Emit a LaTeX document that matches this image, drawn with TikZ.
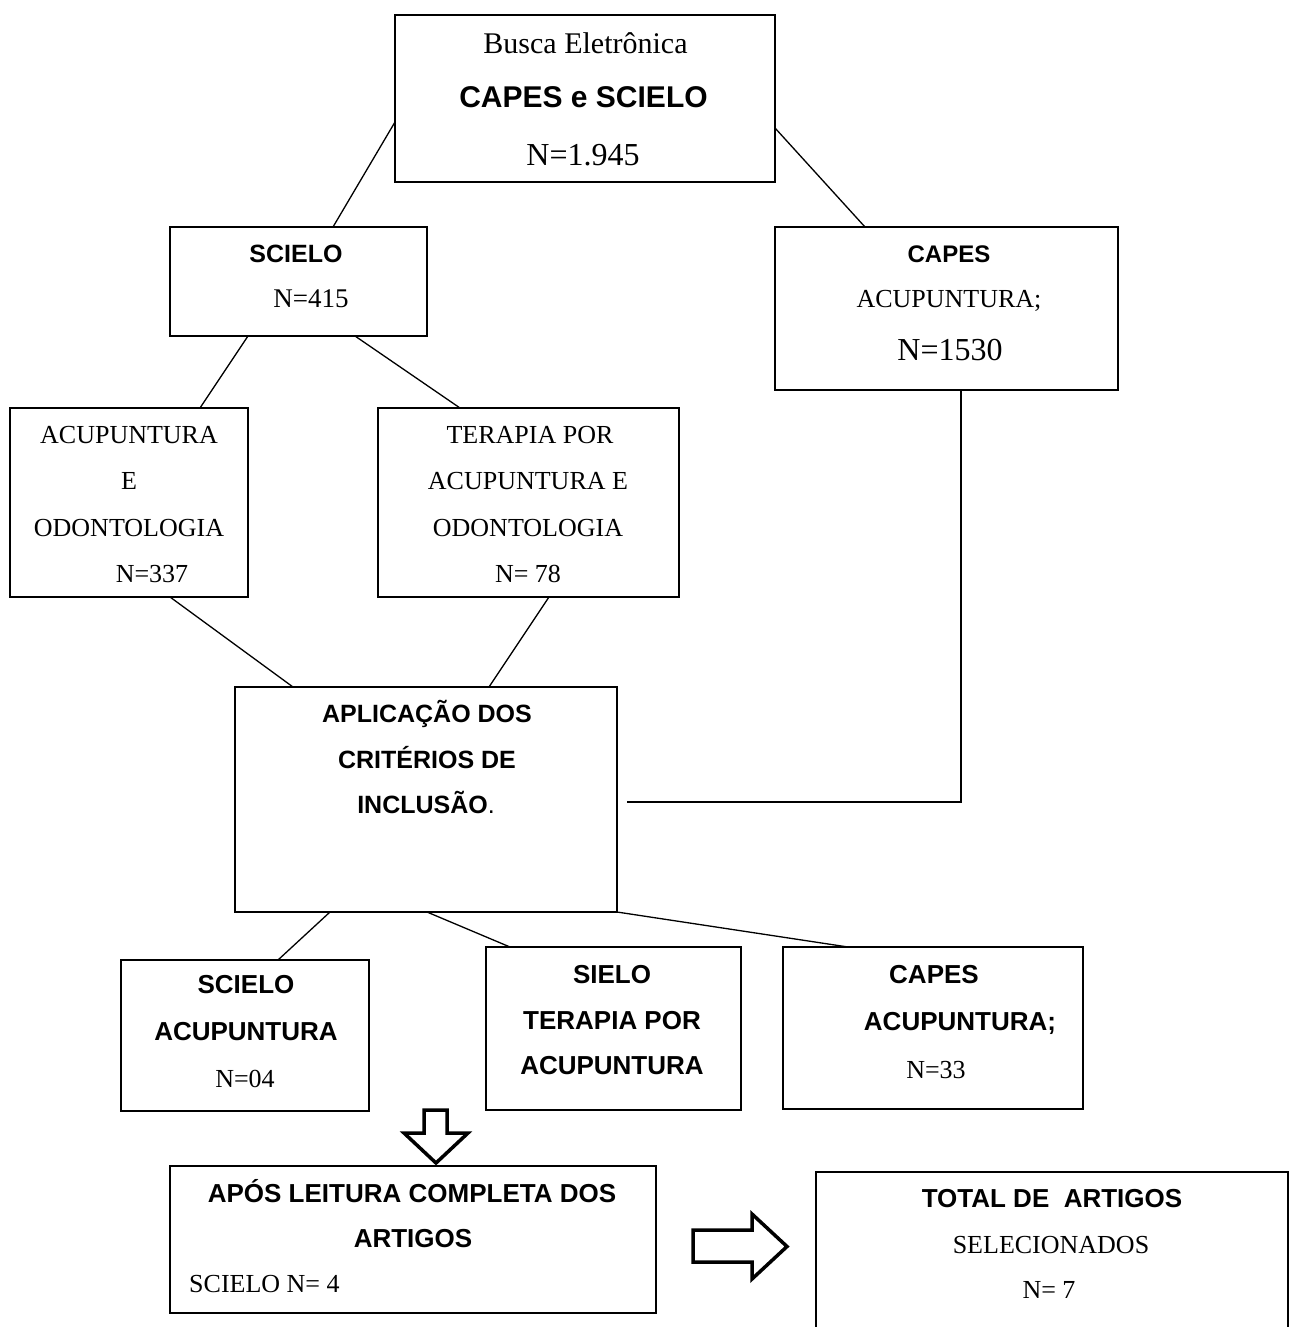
\documentclass[tikz,border=0pt]{standalone}
\usepackage{fontspec}
\setmainfont{Liberation Serif}
\newfontfamily\arial{Liberation Sans}
\usetikzlibrary{calc}
\tikzset{
  box/.style={draw, line width=1.3pt, rectangle, inner sep=0pt, outer sep=0pt},
  link/.style={line width=1.3pt},
  txt/.style={inner sep=0pt, anchor=base},
  blk/.style={draw, line width=3.5pt, line join=miter, fill=white},
}
\newcommand{\sz}[1]{\fontsize{#1}{#1}\selectfont}
\newcommand{\bs}[1]{\arial\bfseries\fontsize{#1}{#1}\selectfont}
\begin{document}
\begin{tikzpicture}[x=1pt,y=-1pt]
\useasboundingbox (0,0) rectangle (1289,1327);
\clip (0,0) rectangle (1289,1327);
% boxes
\node[box, minimum width=380pt, minimum height=167pt] (top) at (585,98.5) {};
\node[box, minimum width=257pt, minimum height=109pt] (sc) at (298.5,281.5) {};
\node[box, minimum width=343pt, minimum height=163pt] (cp) at (946.5,308.5) {};
\node[box, minimum width=238pt, minimum height=189pt] (ao) at (129,502.5) {};
\node[box, minimum width=301pt, minimum height=189pt] (ta) at (528.5,502.5) {};
\node[box, minimum width=382pt, minimum height=225pt] (ap) at (426,799.5) {};
\node[box, minimum width=248pt, minimum height=151pt] (sa) at (245,1035.5) {};
\node[box, minimum width=255pt, minimum height=163pt] (st) at (613.5,1028.5) {};
\node[box, minimum width=300pt, minimum height=162pt] (ca) at (933,1028) {};
\node[box, minimum width=486pt, minimum height=147pt] (al) at (413,1239.5) {};
\node[box, minimum width=472pt, minimum height=168pt] (tt) at (1052,1256) {};
% connectors
\draw[link] ($(top.north west)+(0,107)$) -- ($(sc.north west)+(163,0)$);
\draw[link] ($(top.north east)+(0,113)$) -- ($(cp.north west)+(90,0)$);
\draw[link] ($(sc.south west)+(78,0)$) -- ($(ao.north west)+(190,0)$);
\draw[link] ($(sc.south west)+(185,0)$) -- ($(ta.north west)+(82,0)$);
\draw[link] ($(ao.south west)+(160,0)$) -- ($(ap.north west)+(58,0)$);
\draw[link] ($(ta.south west)+(171,0)$) -- ($(ap.north west)+(254,0)$);
\coordinate (apin) at ($(ap.east)+(10,2.5)$);
\draw[link] ($(cp.south west)+(186,0)$) |- (apin);
\draw[link] ($(ap.south west)+(95,0)$) -- ($(sa.north west)+(157,0)$);
\draw[link] ($(ap.south west)+(192,0)$) -- ($(st.north west)+(24,0)$);
\draw[link] (ap.south east) -- ($(ca.north west)+(65,0)$);
% block arrows
\draw[blk] (424,1110) -- (447,1110) -- (447,1133) -- (468,1133) -- (436,1163) -- (404,1133) -- (424,1133) -- cycle;
\draw[blk] (693,1230) -- (752,1230) -- (752,1214) -- (787,1246.5) -- (752,1279) -- (752,1262) -- (693,1262) -- cycle;
% texts
\node[txt] (t1) at (585.5,54) {\sz{30}Busca Eletrônica};
\node[txt] (t2) at (583.5,108) {\bs{30}CAPES e SCIELO};
\node[txt] (t3) at (583,165) {\sz{32}N=1.945};
\node[txt] (t4) at (296,262) {\bs{25}SCIELO};
\node[txt] (t5) at (311,307) {\sz{27}N=415};
\node[txt] (t6) at (949,262) {\bs{24}CAPES};
\node[txt] (t7) at (949,307) {\sz{26}ACUPUNTURA;};
\node[txt] (t8) at (950,360) {\sz{32}N=1530};
\node[txt] (t9) at (129,443) {\sz{26}ACUPUNTURA};
\node[txt] (t10) at (129,489) {\sz{26}E};
\node[txt] (t11) at (129,536) {\sz{26}ODONTOLOGIA};
\node[txt] (t12) at (152,582) {\sz{26}N=337};
\node[txt] (t13) at (530,443) {\sz{26}TERAPIA POR};
\node[txt] (t14) at (528,489) {\sz{26}ACUPUNTURA E};
\node[txt] (t15) at (528,536) {\sz{26}ODONTOLOGIA};
\node[txt] (t16) at (528,582) {\sz{26}N= 78};
\node[txt] (t17) at (427,722) {\bs{25}APLICAÇÃO DOS};
\node[txt] (t18) at (427,768) {\bs{25}CRITÉRIOS DE};
\node[txt] (t19) at (426,813) {\bs{25}INCLUSÃO\mdseries.};
\node[txt] (t20) at (246,993) {\bs{26}SCIELO};
\node[txt] (t21) at (246,1040) {\bs{26}ACUPUNTURA};
\node[txt] (t22) at (245,1087) {\sz{26}N=04};
\node[txt] (t23) at (612,983) {\bs{26}SIELO};
\node[txt] (t24) at (612,1029) {\bs{26}TERAPIA POR};
\node[txt] (t25) at (612,1074) {\bs{26}ACUPUNTURA};
\node[txt] (t26) at (934,983) {\bs{26}CAPES};
\node[txt] (t27) at (960,1030) {\bs{26}ACUPUNTURA;};
\node[txt] (t28) at (936,1078) {\sz{26}N=33};
\node[txt] (t29) at (412,1202) {\bs{26}APÓS LEITURA COMPLETA DOS};
\node[txt] (t30) at (413,1247) {\bs{26}ARTIGOS};
\node[txt, anchor=base west] (t31) at (189,1292) {\sz{26}SCIELO N= 4};
\node[txt] (t32) at (1052,1207) {\bs{26}TOTAL DE \ ARTIGOS};
\node[txt] (t33) at (1051,1253) {\sz{26}SELECIONADOS};
\node[txt] (t34) at (1049,1298) {\sz{26}N= 7};
\end{tikzpicture}
\end{document}
